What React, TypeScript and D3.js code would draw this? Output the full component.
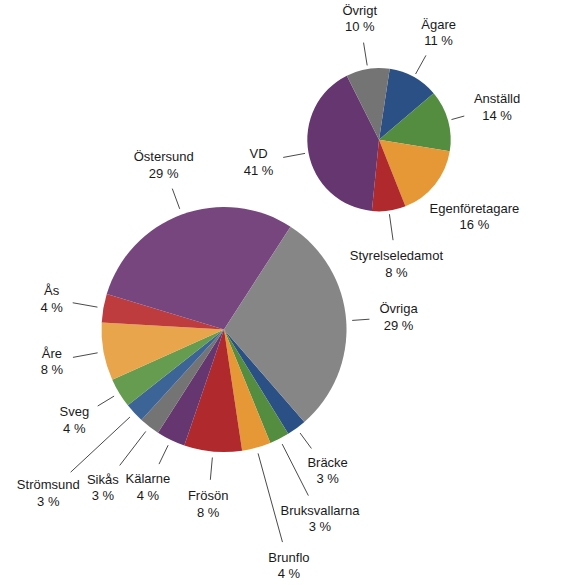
import React from 'react';
import * as d3 from 'd3';

// ---- data ----
const bigCategories = ['Bräcke', 'Bruksvallarna', 'Brunflo', 'Frösön', 'Kälarne', 'Sikås', 'Strömsund', 'Sveg', 'Åre', 'Ås', 'Östersund', 'Övriga'];
const bigValues = [2.6, 2.6, 3.8, 7.6, 3.8, 2.7, 2.6, 3.9, 7.6, 3.75, 29.4, 29.4];

const smallCategories = ['Ägare', 'Anställd', 'Egenföretagare', 'Styrelseledamot', 'VD', 'Övrigt'];
const smallValues = [11.4, 13.8, 16.4, 7.6, 41.0, 9.8];

// ---- styles ----
const darkPalette = ['#2A5086', '#548C40', '#E59835', '#B0292D', '#653670', '#737473'];
const lightPalette = ['#3D6497', '#659C50', '#E8A54B', '#BF3C3E', '#77467F', '#858685'];
const bigColors = [...darkPalette, ...lightPalette];
const smallColors = darkPalette;

const FONT = "13px 'Liberation Sans', Arial, Helvetica, sans-serif";

let ctx: CanvasRenderingContext2D | null = null;
function textWidth(s: string): number {
  if (!ctx) {
    const c = document.createElement('canvas');
    ctx = c.getContext('2d');
  }
  if (!ctx) return s.length * 7;
  ctx.font = FONT;
  return ctx.measureText(s).width;
}

type PieSpec = {
  cx: number;
  cy: number;
  r: number;
  startDeg: number;
  labelDist: number;
  labelDistOverride: Record<string, number>;
  innerGap: number;
  noLeader: string[];
};

const bigSpec: PieSpec = {
  cx: 224,
  cy: 329.5,
  r: 122.5,
  startDeg: 139,
  labelDist: 175,
  labelDistOverride: { Bruksvallarna: 212, Brunflo: 245, 'Sikås': 199, 'Strömsund': 240 },
  innerGap: 6,
  noLeader: [],
};

const smallSpec: PieSpec = {
  cx: 379,
  cy: 139.7,
  r: 71.7,
  startDeg: 8.6,
  labelDist: 122.5,
  labelDistOverride: { Styrelseledamot: 125.6 },
  innerGap: 3.5,
  noLeader: ['Egenföretagare'],
};

function Pie({ cats, vals, colors, spec }: { cats: string[]; vals: number[]; colors: string[]; spec: PieSpec }) {
  const total = d3.sum(vals);
  const start = (spec.startDeg * Math.PI) / 180;
  const pie = d3
    .pie<number>()
    .sort(null)
    .value((d) => d)
    .startAngle(start)
    .endAngle(start + 2 * Math.PI);
  const arcs = pie(vals);
  const arc = d3.arc<d3.PieArcDatum<number>>().innerRadius(0).outerRadius(spec.r);
  const pt = (a: number, d: number): [number, number] => [spec.cx + d * Math.sin(a), spec.cy - d * Math.cos(a)];

  return (
    <g>
      <g transform={`translate(${spec.cx},${spec.cy})`}>
        {arcs.map((a, i) => (
          <path key={cats[i]} d={arc(a) || ''} fill={colors[i]} />
        ))}
      </g>
      {arcs.map((a, i) => {
        const name = cats[i];
        const pct = `${Math.round((vals[i] * 100) / total)} %`;
        const mid = (a.startAngle + a.endAngle) / 2;
        const dist = spec.labelDistOverride[name] ?? spec.labelDist;
        const [lx, ly] = pt(mid, dist);
        const hw = Math.max(textWidth(name), textWidth(pct)) / 2;
        const hh = 14;
        const dx = Math.abs(Math.sin(mid));
        const dy = Math.abs(Math.cos(mid));
        const t = Math.min(dx > 1e-6 ? hw / dx : Infinity, dy > 1e-6 ? hh / dy : Infinity) + 10;
        const [x1, y1] = pt(mid, spec.r + spec.innerGap);
        const [x2, y2] = pt(mid, dist - t);
        const showLeader = !spec.noLeader.includes(name) && dist - t > spec.r + spec.innerGap;
        return (
          <g key={name + '-lbl'}>
            {showLeader && <line x1={x1} y1={y1} x2={x2} y2={y2} stroke="#4a4a4a" strokeWidth={1} />}
            <text x={lx} y={ly - 3.75} textAnchor="middle" style={{ font: FONT }} fill="#1a1a1a">
              {name}
            </text>
            <text x={lx} y={ly + 12.75} textAnchor="middle" style={{ font: FONT }} fill="#1a1a1a">
              {pct}
            </text>
          </g>
        );
      })}
    </g>
  );
}

export default function App() {
  return (
    <svg
      width={585}
      height={585}
      viewBox="0 0 585 585"
      style={{ position: 'absolute', left: 0, top: 0, background: '#fff' }}
    >
      <rect x={0} y={0} width={585} height={585} fill="#fff" />
      <Pie cats={bigCategories} vals={bigValues} colors={bigColors} spec={bigSpec} />
      <Pie cats={smallCategories} vals={smallValues} colors={smallColors} spec={smallSpec} />
    </svg>
  );
}
